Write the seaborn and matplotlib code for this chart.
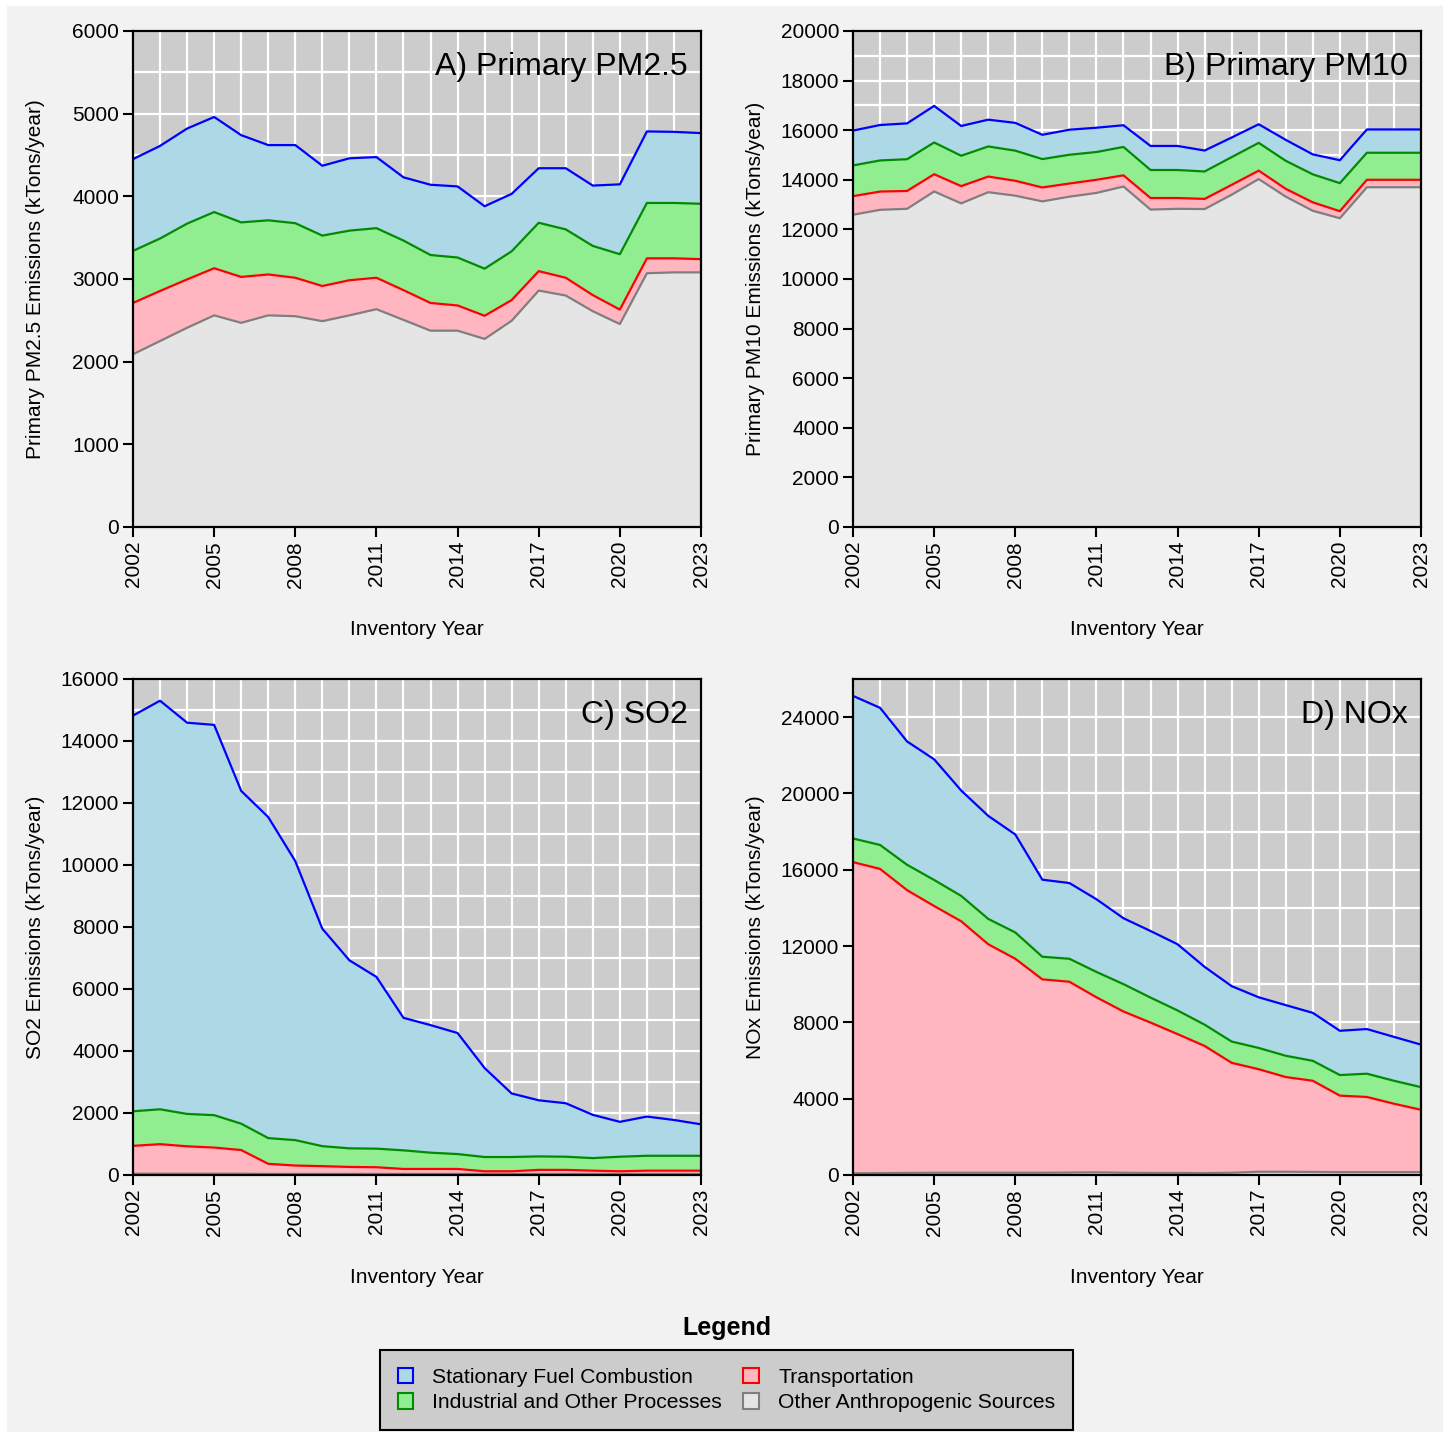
import numpy as np
import pandas as pd
import seaborn as sns
import matplotlib.pyplot as plt
from matplotlib.patches import Patch, Rectangle
from matplotlib.ticker import FixedLocator, MultipleLocator

# years and source categories (stacking order: bottom -> top)
years = list(range(2002, 2024))
year_ticks = list(range(2002, 2024, 3))
sources = ["Other Anthropogenic Sources", "Transportation",
           "Industrial and Other Processes", "Stationary Fuel Combustion"]
fill_colors = ["#e5e5e5", "#ffb6c1", "#90ee90", "#add8e6"]
line_colors = ["#7f7f7f", "#ff0000", "#008b00", "#0000ff"]

# A) Primary PM2.5 (kTons/year)
pm25_other = [2090, 2250, 2410, 2560, 2470, 2560, 2550, 2490, 2560, 2635, 2505,
              2375, 2375, 2275, 2495, 2860, 2800, 2610, 2455, 3070, 3080, 3080]
pm25_transport = [620, 605, 585, 570, 555, 495, 465, 425, 425, 380, 360,
                  335, 305, 280, 250, 235, 215, 195, 175, 180, 170, 160]
pm25_industrial = [630, 635, 675, 680, 660, 655, 660, 610, 600, 600, 600,
                   580, 580, 570, 590, 585, 585, 595, 670, 670, 670, 670]
pm25_stationary = [1110, 1120, 1150, 1150, 1055, 910, 945, 845, 875, 860, 765,
                   850, 860, 755, 695, 660, 740, 730, 845, 865, 860, 855]

# B) Primary PM10
pm10_other = [12590, 12790, 12830, 13530, 13050, 13500, 13360, 13130, 13320, 13470, 13730,
              12800, 12830, 12820, 13400, 14030, 13320, 12750, 12450, 13700, 13700, 13700]
pm10_transport = [750, 735, 720, 695, 695, 630, 600, 560, 530, 530, 450,
                  465, 435, 410, 395, 340, 315, 340, 285, 300, 300, 300]
pm10_industrial = [1240, 1255, 1280, 1280, 1225, 1215, 1215, 1145, 1160, 1120, 1145,
                   1130, 1130, 1105, 1120, 1120, 1130, 1130, 1130, 1090, 1090, 1090]
pm10_stationary = [1405, 1430, 1445, 1475, 1200, 1080, 1120, 980, 1010, 980, 875,
                   970, 970, 845, 790, 750, 845, 805, 925, 940, 940, 940]

# C) SO2
so2_other = [40, 40, 40, 40, 40, 35, 35, 35, 35, 35, 35,
             35, 35, 35, 35, 35, 35, 35, 35, 35, 35, 35]
so2_transport = [900, 955, 885, 845, 765, 325, 270, 250, 225, 215, 160,
                 160, 160, 85, 85, 130, 130, 105, 85, 105, 105, 105]
so2_industrial = [1115, 1125, 1045, 1045, 850, 830, 820, 645, 600, 600, 600,
                  525, 480, 460, 460, 435, 425, 405, 470, 480, 480, 480]
so2_stationary = [12765, 13180, 12620, 12590, 10735, 10355, 9000, 7015, 6065, 5540, 4275,
                  4115, 3905, 2870, 2050, 1810, 1725, 1395, 1125, 1265, 1155, 1015]

# D) NOx
nox_other = [90, 100, 110, 120, 120, 120, 120, 120, 130, 140, 120,
             110, 110, 100, 120, 170, 170, 160, 150, 150, 150, 150]
nox_transport = [16310, 15945, 14820, 13980, 13180, 11975, 11215, 10135, 10000, 9175, 8450,
                 7880, 7275, 6665, 5760, 5375, 4965, 4780, 4010, 3940, 3585, 3270]
nox_industrial = [1240, 1255, 1330, 1365, 1330, 1330, 1380, 1185, 1205, 1330, 1435,
                  1310, 1240, 1115, 1115, 1115, 1115, 1045, 1080, 1220, 1205, 1185]
nox_stationary = [7475, 7190, 6465, 6325, 5525, 5400, 5135, 4040, 3970, 3810, 3455,
                  3490, 3470, 3030, 2905, 2655, 2655, 2515, 2320, 2340, 2300, 2230]

panels = [
    ("A) Primary PM2.5", "Primary PM2.5 Emissions (kTons/year)",
     [pm25_other, pm25_transport, pm25_industrial, pm25_stationary], 6000, 1000),
    ("B) Primary PM10", "Primary PM10 Emissions (kTons/year)",
     [pm10_other, pm10_transport, pm10_industrial, pm10_stationary], 20000, 2000),
    ("C) SO2", "SO2 Emissions (kTons/year)",
     [so2_other, so2_transport, so2_industrial, so2_stationary], 16000, 2000),
    ("D) NOx", "NOx Emissions (kTons/year)",
     [nox_other, nox_transport, nox_industrial, nox_stationary], 26000, 4000),
]

sns.set_style("darkgrid", {"axes.facecolor": "#cccccc", "grid.color": "white",
                           "axes.edgecolor": "black", "text.color": "black",
                           "axes.labelcolor": "black", "xtick.color": "black",
                           "ytick.color": "black"})
plt.rcParams["font.family"] = ["Liberation Sans", "DejaVu Sans"]

W, H = 1450, 1438
fig = plt.figure(figsize=(W / 100, H / 100), dpi=100, facecolor="white")
fig.patches.append(Rectangle((7 / W, 6 / H), 1436 / W, 1426 / H, transform=fig.transFigure,
                             facecolor="#f2f2f2", edgecolor="none", zorder=-10))

# axes boxes in pixels: (left, top)
boxes = [(133, 31), (853, 31), (133, 679), (853, 679)]
aw, ah = 568, 496

for (title, ylab, layers, ymax, ystep), (px, py) in zip(panels, boxes):
    ax = fig.add_axes([px / W, 1 - (py + ah) / H, aw / W, ah / H])
    ax.set_axisbelow(True)
    cum = np.cumsum(np.array(layers, dtype=float), axis=0)
    lower = np.zeros(len(years))
    rows = []
    for i, name in enumerate(sources):
        ax.fill_between(years, lower, cum[i], color=fill_colors[i], lw=0, zorder=1)
        lower = cum[i]
        rows += [{"year": y, "value": v, "source": name} for y, v in zip(years, cum[i])]
    df = pd.DataFrame(rows)
    sns.lineplot(data=df, x="year", y="value", hue="source", hue_order=sources,
                 palette=dict(zip(sources, line_colors)), lw=1.6, legend=False,
                 ax=ax, zorder=2)

    ax.set_xlim(2002, 2023)
    ax.set_ylim(0, ymax)
    ax.xaxis.set_major_locator(FixedLocator(year_ticks))
    ax.xaxis.set_minor_locator(MultipleLocator(1))
    ax.yaxis.set_major_locator(MultipleLocator(ystep))
    ax.yaxis.set_minor_locator(MultipleLocator(ystep / 2))
    ax.grid(which="both", color="white", lw=1.6)
    ax.tick_params(which="major", length=7, width=1.5, color="black", labelcolor="black",
                   labelsize=15, pad=3, bottom=True, left=True)
    ax.tick_params(which="minor", length=0)
    ax.tick_params(axis="x", labelrotation=90)
    for s in ax.spines.values():
        s.set_visible(True)
        s.set_color("black")
        s.set_linewidth(1.6)
    ax.set_xlabel("Inventory Year", fontsize=15, color="black")
    ax.set_ylabel(ylab, fontsize=15, color="black")
    ax.xaxis.set_label_coords(0.5, -0.187)
    ax.yaxis.set_label_coords(-0.155, 0.5)
    ax.text(0.977, 0.927, title, transform=ax.transAxes, ha="right", va="center",
            fontsize=23, color="black", zorder=5)

# legend at the bottom
handles = [Patch(facecolor=fill_colors[i], edgecolor=line_colors[i], lw=1.5, label=sources[i])
           for i in [3, 2, 1, 0]]
fig.text(0.501, 1 - 1328 / H, "Legend", ha="center", va="center",
         fontsize=18, fontweight="bold", color="black")
leg = fig.legend(handles=handles, loc="center", bbox_to_anchor=(0.501, 1 - 1390 / H),
                 ncol=2, fontsize=15.2, frameon=True, fancybox=False, framealpha=1,
                 facecolor="#cccccc", edgecolor="black", handlelength=0.75,
                 handleheight=0.75, handletextpad=0.9, columnspacing=1.0,
                 labelspacing=0.3, borderpad=0.85, labelcolor="black")
leg.get_frame().set_linewidth(1.5)

plt.savefig("out.png", dpi=100, facecolor=fig.get_facecolor())
